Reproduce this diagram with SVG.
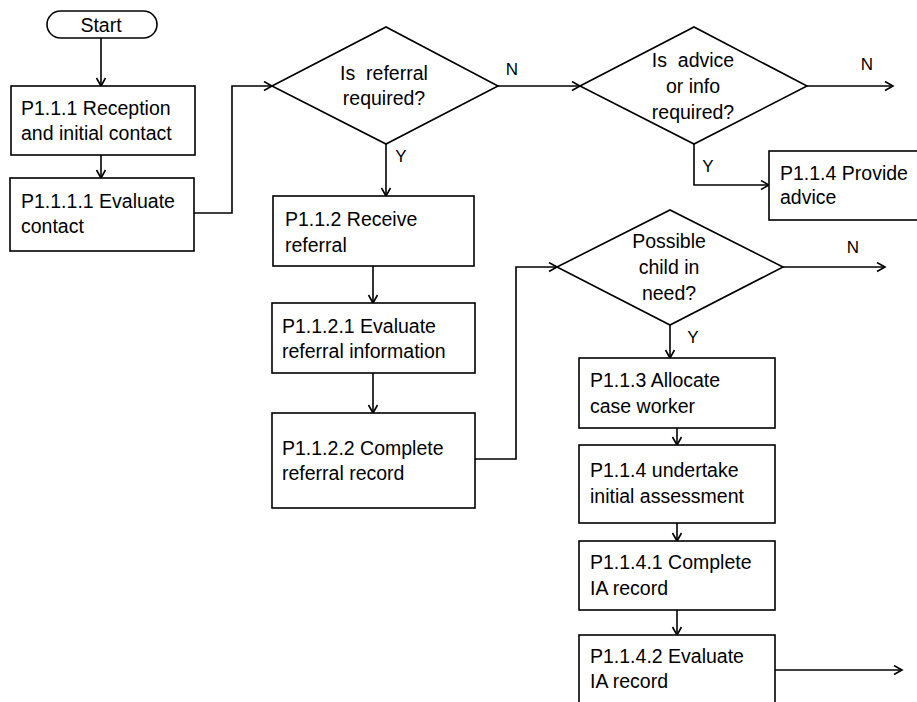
<svg xmlns="http://www.w3.org/2000/svg" width="917" height="702" viewBox="0 0 917 702">
<style>
.n{fill:#fff;stroke:#000;stroke-width:1.6}
.t{font-family:"Liberation Sans",Arial,sans-serif;font-size:19.5px;fill:#000;white-space:pre}
.c{text-anchor:middle}
.l{font-family:"Liberation Sans",Arial,sans-serif;font-size:17px;fill:#000;text-anchor:middle}
.e{fill:none;stroke:#000;stroke-width:1.6}
</style>
<defs>
<marker id="a" markerUnits="userSpaceOnUse" markerWidth="12" markerHeight="12" refX="9" refY="5.5" orient="auto">
<path d="M1,1 L9,5.5 L1,10" fill="none" stroke="#000" stroke-width="1.6"/>
</marker>
</defs>
<rect width="917" height="702" fill="#fff"/>
<g id="connectors">
<path class="e" d="M101,38 V86" marker-end="url(#a)"/>
<path class="e" d="M101,155 V178" marker-end="url(#a)"/>
<path class="e" d="M194,213 H232 V86 H272" marker-end="url(#a)"/>
<path class="e" d="M498,86 H580" marker-end="url(#a)"/>
<path class="e" d="M807,86 H893" marker-end="url(#a)"/>
<path class="e" d="M694,144 V185 H769" marker-end="url(#a)"/>
<path class="e" d="M386,144 V196" marker-end="url(#a)"/>
<path class="e" d="M373,266 V303" marker-end="url(#a)"/>
<path class="e" d="M373,373 V413" marker-end="url(#a)"/>
<path class="e" d="M475,459 H516 V267 H557" marker-end="url(#a)"/>
<path class="e" d="M783,267 H885" marker-end="url(#a)"/>
<path class="e" d="M670,325 V358" marker-end="url(#a)"/>
<path class="e" d="M677,428 V445" marker-end="url(#a)"/>
<path class="e" d="M677,523 V541" marker-end="url(#a)"/>
<path class="e" d="M677,610 V635" marker-end="url(#a)"/>
<path class="e" d="M775,670 H902" marker-end="url(#a)"/>
<text class="l" x="512" y="75">N</text>
<text class="l" x="867" y="70">N</text>
<text class="l" x="853" y="253">N</text>
<text class="l" x="401" y="162">Y</text>
<text class="l" x="708" y="172">Y</text>
<text class="l" x="693" y="343">Y</text>
</g>
<g id="start">
<rect class="n" x="47" y="11" width="110" height="27" rx="13.5"/>
<text class="t c" x="101" y="32">Start</text>
</g>
<g id="p111">
<rect class="n" x="11" y="86" width="184" height="69"/>
<text class="t" x="21" y="115">P1.1.1 Reception</text>
<text class="t" x="21" y="140">and initial contact</text>
</g>
<g id="p1111">
<rect class="n" x="10" y="178" width="184" height="73"/>
<text class="t" x="21" y="208">P1.1.1.1 Evaluate</text>
<text class="t" x="21" y="233">contact</text>
</g>
<g id="d-referral">
<polygon class="n" points="272,86 386,27 498,86 386,144"/>
<text class="t c" x="384" y="80">Is  referral</text>
<text class="t c" x="384" y="105">required?</text>
</g>
<g id="d-advice">
<polygon class="n" points="580,86 694,27 807,86 694,144"/>
<text class="t c" x="693" y="67">Is  advice</text>
<text class="t c" x="693" y="93">or info</text>
<text class="t c" x="693" y="119">required?</text>
</g>
<g id="p114a">
<rect class="n" x="769" y="151" width="160" height="69"/>
<text class="t" x="780" y="180">P1.1.4 Provide</text>
<text class="t" x="780" y="204">advice</text>
</g>
<g id="p112">
<rect class="n" x="273" y="196" width="201" height="70"/>
<text class="t" x="285" y="226">P1.1.2 Receive</text>
<text class="t" x="285" y="252">referral</text>
</g>
<g id="p1121">
<rect class="n" x="272" y="303" width="203" height="70"/>
<text class="t" x="282" y="333">P1.1.2.1 Evaluate</text>
<text class="t" x="282" y="358">referral information</text>
</g>
<g id="p1122">
<rect class="n" x="272" y="413" width="203" height="95"/>
<text class="t" x="282" y="455">P1.1.2.2 Complete</text>
<text class="t" x="282" y="480">referral record</text>
</g>
<g id="d-child">
<polygon class="n" points="557,267 670,210 783,267 670,325"/>
<text class="t c" x="669" y="248">Possible</text>
<text class="t c" x="669" y="274">child in</text>
<text class="t c" x="669" y="300">need?</text>
</g>
<g id="p113">
<rect class="n" x="579" y="358" width="196" height="70"/>
<text class="t" x="590" y="387">P1.1.3 Allocate</text>
<text class="t" x="590" y="413">case worker</text>
</g>
<g id="p114">
<rect class="n" x="579" y="445" width="196" height="78"/>
<text class="t" x="590" y="477">P1.1.4 undertake</text>
<text class="t" x="590" y="503">initial assessment</text>
</g>
<g id="p1141">
<rect class="n" x="579" y="541" width="196" height="69"/>
<text class="t" x="590" y="569">P1.1.4.1 Complete</text>
<text class="t" x="590" y="595">IA record</text>
</g>
<g id="p1142">
<rect class="n" x="579" y="635" width="196" height="80"/>
<text class="t" x="590" y="663">P1.1.4.2 Evaluate</text>
<text class="t" x="590" y="688">IA record</text>
</g>
</svg>
